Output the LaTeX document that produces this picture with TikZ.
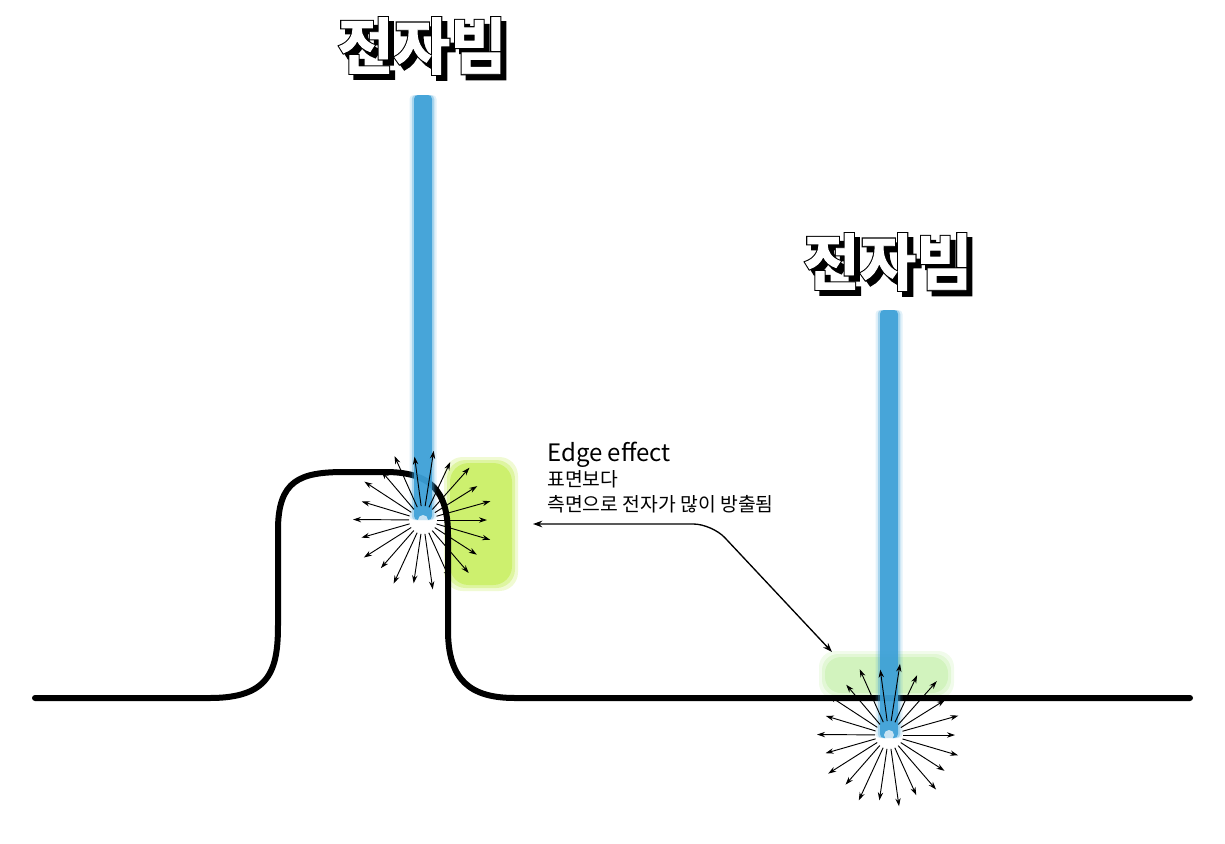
\documentclass[tikz,border=0pt]{standalone}
\usepackage{fontspec}
\setmainfont{Noto Sans CJK KR}
\newfontfamily\krb{Noto Sans CJK KR}[BoldFont={* Bold}]
\newfontfamily\krfat{Noto Sans CJK KR Bold}[FakeBold=5]
\newfontfamily\krmid{Noto Sans CJK KR Bold}[FakeBold=1.5]
\usetikzlibrary{arrows.meta,calc}
\definecolor{beam}{RGB}{60,160,215}
\definecolor{hlA}{RGB}{205,240,110}
\definecolor{hlB}{RGB}{210,243,190}
\tikzset{
  prof/.style={line width=4.5pt,line cap=round,line join=round},
  ray/.style={line width=0.7pt,-{Stealth[length=6pt,width=4pt]}},
  callout/.style={line width=1pt,{Stealth[length=7pt,width=5pt]}-{Stealth[length=7pt,width=5pt]},rounded corners=14pt},
  ttlsize/.style={font=\fontsize{46}{48}\selectfont},
}
\newcommand{\mybeam}[4]{% x, ytop, ybottom, halfwidth
  \foreach \w/\o in {1.5/0.15,1.25/0.35,1.0/0.9}{
    \fill[beam,opacity=\o,rounded corners=3pt] ({#1-#4*\w},#2) rectangle ({#1+#4*\w},#3);
  }
}
\newcommand{\mytitle}[3]{% name, x, y
  \node[ttlsize,text=black] at ({#2+5},{#3+5}) {\krfat 전자빔};
  \node[ttlsize,text=black] at (#2,#3) {\krfat 전자빔};
  \node[ttlsize,text=white] (#1) at (#2,#3) {\krmid 전자빔};
}
\begin{document}
\begin{tikzpicture}[x=0.75pt,y=-0.75pt]
\useasboundingbox (0,0) rectangle (1225,843);
% highlights
\foreach \g/\o in {6/0.3,3/0.5,0/1}{
  \fill[hlA,opacity=\o,rounded corners=14pt] (450-\g,463-\g) rectangle (512+\g,585+\g);
  \fill[hlB,opacity=\o,rounded corners=12pt] (825-\g,657-\g) rectangle (948+\g,693+\g);
}
% profile
\draw[prof] (35,698) -- (210,698) .. controls (270,698) and (278,670) .. (278,625)
  -- (278,530) .. controls (278,480) and (300,472) .. (345,472) -- (385,472)
  .. controls (430,472) and (448,490) .. (448,535) -- (448,630)
  .. controls (448,680) and (470,698) .. (515,698) -- (1190,698);
% beams
\mybeam{423}{95}{520}{9}
\mybeam{889}{310}{738}{9}
\fill[white,opacity=0.7] (423,520) circle (5);
\fill[white,opacity=0.7] (889,735) circle (5);
\coordinate (c1) at (423,520);
\coordinate (c2) at (889,735);
% bursts
\foreach \a [count=\i] in {0,16.4,...,359}{
  \pgfmathsetmacro\r{mod(\i,2)==0 ? 70 : 64}
  \draw[ray] ($(c1)+(\a:14)$) -- ($(c1)+(\a:\r)$);
  \draw[ray] ($(c2)+(\a:14)$) -- ($(c2)+(\a:\r+2)$);
}
% titles
\mytitle{t1}{422}{46}
\mytitle{t2}{888}{262}
% annotation
\node[anchor=south west,inner sep=0,font=\fontsize{18}{20}\selectfont] (ee) at (547,468) {Edge effect};
\node[anchor=north west,inner sep=0,font=\fontsize{14.5}{19}\selectfont,align=left] (kt) at (547,470) {표면보다\\측면으로 전자가 많이 방출됨};
\coordinate (aL) at (533,524);
\coordinate (aR) at (832,652);
\draw[callout] (aL) -- (712,524) -- (aR);
\end{tikzpicture}
\end{document}
